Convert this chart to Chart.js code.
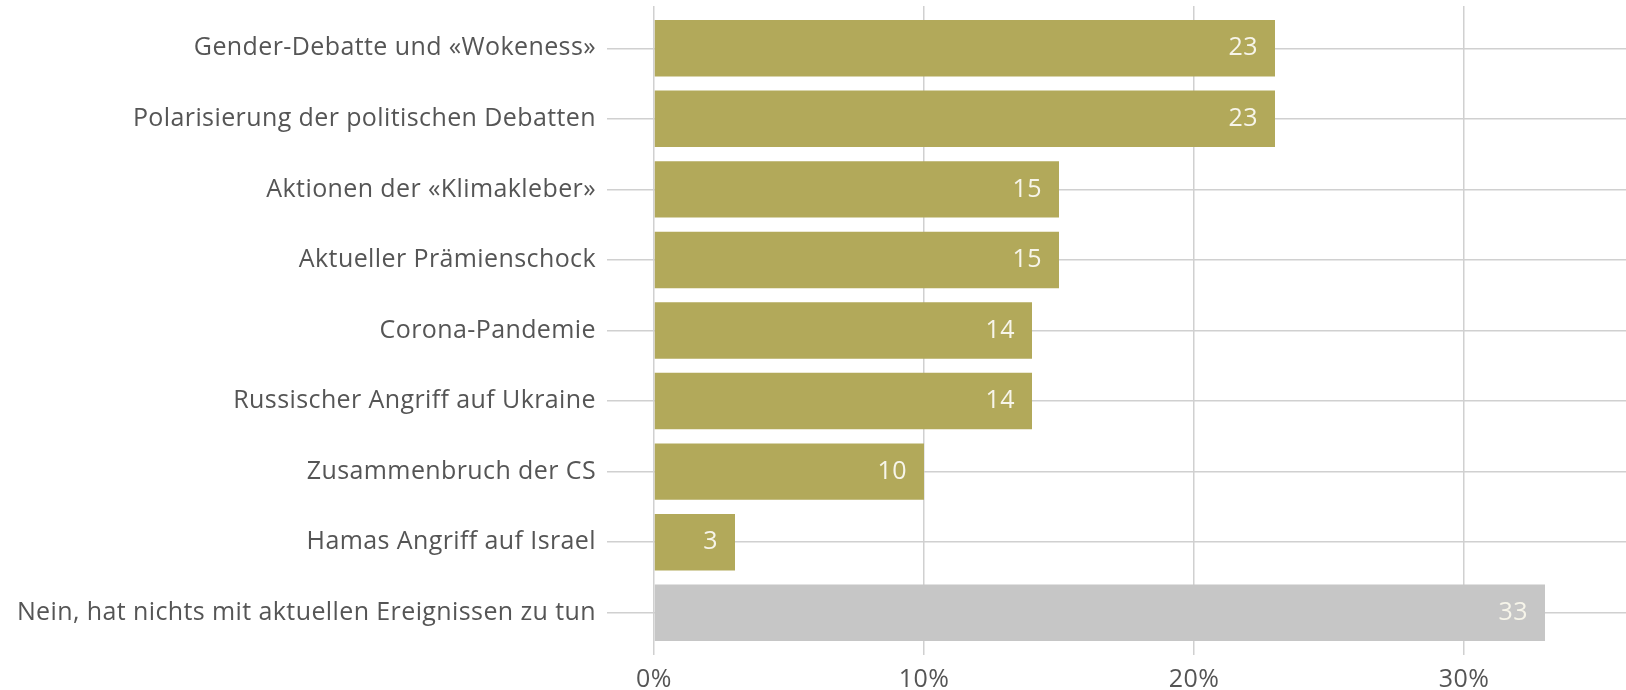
<!DOCTYPE html>
<html>
<head>
<meta charset="utf-8">
<script src="https://cdn.jsdelivr.net/npm/chart.js@4"></script>
<style>
  html, body { margin: 0; padding: 0; background: #fff; }
  #wrap { width: 1626px; height: 690px; }
</style>
</head>
<body>
<div id="wrap"><canvas id="chart"></canvas></div>
<script>
// topics and share of answers (%)
const categories = [
  'Gender-Debatte und «Wokeness»',
  'Polarisierung der politischen Debatten',
  'Aktionen der «Klimakleber»',
  'Aktueller Prämienschock',
  'Corona-Pandemie',
  'Russischer Angriff auf Ukraine',
  'Zusammenbruch der CS',
  'Hamas Angriff auf Israel',
  'Nein, hat nichts mit aktuellen Ereignissen zu tun'
];
const values = [23, 23, 15, 15, 14, 14, 10, 3, 33];
const xTicks = [0, 10, 20, 30];

const OLIVE = '#b2a95a';
const GREY = '#c6c6c6';
const GRID = '#d0d0d0';
const TEXT = '#555555';
const FONT = '"Open Sans", Roboto, sans-serif';

const barColors = values.map((v, i) => i === values.length - 1 ? GREY : OLIVE);

// the original type is slightly tracked
const tracking = {
  id: 'tracking',
  beforeUpdate(chart) { chart.ctx.letterSpacing = '0.4px'; },
  beforeDraw(chart) { chart.ctx.letterSpacing = '0.4px'; }
};

// white numbers at the end of each bar
const valueLabels = {
  id: 'valueLabels',
  afterDatasetsDraw(chart) {
    const ctx = chart.ctx;
    const meta = chart.getDatasetMeta(0);
    ctx.save();
    ctx.font = '25px ' + FONT;
    ctx.fillStyle = '#f7f5ea';
    ctx.textAlign = 'right';
    ctx.textBaseline = 'middle';
    meta.data.forEach((bar, i) => {
      ctx.fillText(String(values[i]), bar.x - 17, bar.y);
    });
    ctx.restore();
  }
};

new Chart(document.getElementById('chart').getContext('2d'), {
  type: 'bar',
  data: {
    labels: categories,
    datasets: [{
      data: values,
      backgroundColor: barColors,
      borderWidth: 0,
      barPercentage: 0.8,
      categoryPercentage: 1.0
    }]
  },
  options: {
    indexAxis: 'y',
    responsive: true,
    maintainAspectRatio: false,
    animation: false,
    layout: { padding: { top: 6, right: 0, bottom: 0, left: 0 } },
    plugins: {
      legend: { display: false },
      tooltip: { enabled: false }
    },
    scales: {
      x: {
        position: 'bottom',
        min: 0,
        max: 36,
        border: { display: false },
        grid: { color: GRID, lineWidth: 1.5, tickLength: 7, tickColor: GRID },
        ticks: {
          stepSize: 10,
          includeBounds: false,
          padding: 10,
          color: TEXT,
          font: { family: FONT, size: 25 },
          callback: v => xTicks.includes(v) ? v + '%' : ''
        },
        afterFit: s => { s.height = 42; }
      },
      x2: {
        position: 'top',
        min: 0,
        max: 36,
        border: { display: false },
        grid: { drawOnChartArea: false, color: GRID, lineWidth: 1.5, tickLength: 7 },
        ticks: { display: false, stepSize: 10, includeBounds: false },
        afterFit: s => { s.height = 7; }
      },
      y: {
        border: { display: false },
        grid: { offset: false, color: GRID, lineWidth: 1.5, tickLength: 47 },
        ticks: {
          padding: 11,
          color: TEXT,
          font: { family: FONT, size: 25 }
        },
        afterFit: s => {
          s.width = 654;
          s.paddingTop = 0;
          s.paddingBottom = 0;
        }
      }
    }
  },
  plugins: [tracking, valueLabels]
});
</script>
</body>
</html>
